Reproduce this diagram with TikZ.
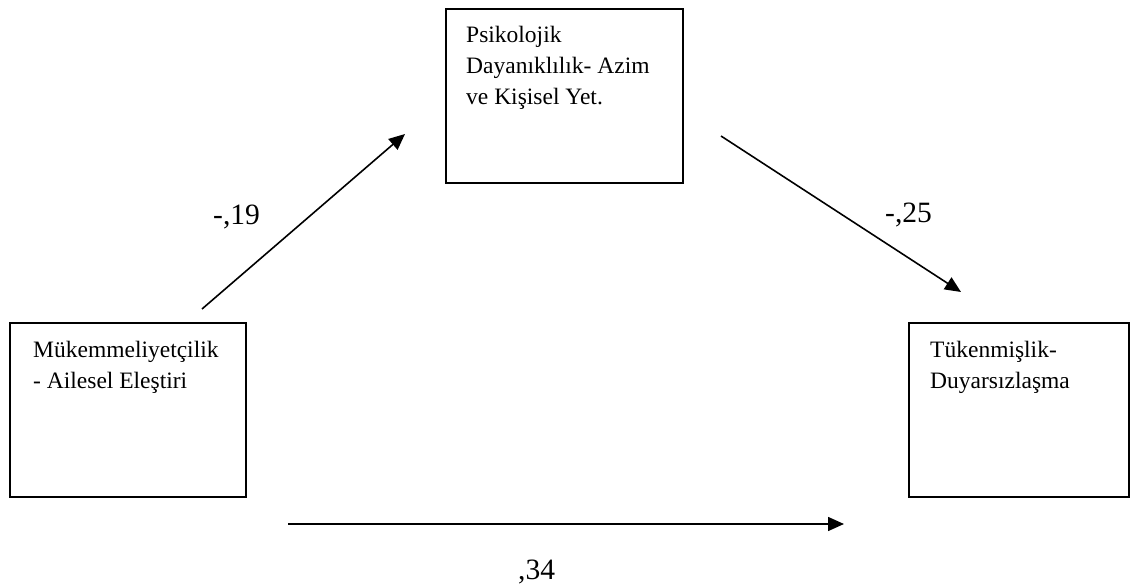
\documentclass[tikz,border=0pt]{standalone}
\usepackage{fontspec}
\setmainfont{Liberation Serif}
\usetikzlibrary{arrows.meta}
\begin{document}
\begin{tikzpicture}[x=1pt,y=-1pt,
  box/.style={draw,line width=1.6pt,inner sep=0pt,anchor=north west,minimum height=174pt},
  boxtext/.style={anchor=north west,inner sep=0pt,align=left,font=\fontsize{23.5}{31}\selectfont},
  coef/.style={anchor=base west,inner sep=0pt,font=\fontsize{29.5}{34}\selectfont},
  path/.style={line width=1.6pt,-{Triangle[length=16pt,width=14pt]}}]
\useasboundingbox (0,0) rectangle (1136,585);

% variable boxes
\node[box,minimum width=237pt] (med) at (445,8) {};
\node[box,minimum width=236pt] (pred) at (9,322) {};
\node[box,minimum width=220pt] (out) at (908,322) {};

\node[boxtext] (medtxt) at ([shift={(21,18)}]med.north west)
  {Psikolojik\\Dayanıklılık- Azim\\ve Kişisel Yet.};
\node[boxtext] (predtxt) at ([shift={(24,19)}]pred.north west)
  {Mükemmeliyetçilik\\- Ailesel Eleştiri};
\node[boxtext] (outtxt) at ([shift={(22,19)}]out.north west)
  {Tükenmişlik-\\Duyarsızlaşma};

% path end points
\coordinate (a1s) at (202,309);
\coordinate (a1e) at (405,134);
\coordinate (a2s) at (721,136);
\coordinate (a2e) at (961,292);
\coordinate (a3s) at (288,524);
\coordinate (a3e) at (844,524);

\draw[path] (a1s) -- (a1e);
\draw[path] (a2s) -- (a2e);
\draw[path] (a3s) -- (a3e);

% path coefficients
\node[coef] (c1) at (213,225) {-,19};
\node[coef] (c2) at (885,223) {-,25};
\node[coef] (c3) at (518,579) {,34};
\end{tikzpicture}
\end{document}
